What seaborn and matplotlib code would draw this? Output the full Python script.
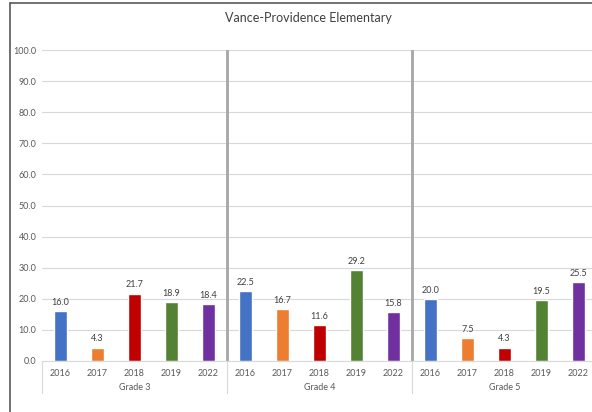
import matplotlib
matplotlib.use("Agg")
import matplotlib.pyplot as plt
import matplotlib.transforms as mtransforms
from matplotlib.lines import Line2D
import pandas as pd
import seaborn as sns

# Data
GRADES = ["Grade 3", "Grade 4", "Grade 5"]
YEARS = ["2016", "2017", "2018", "2019", "2022"]
GRADE3 = [16.0, 4.3, 21.7, 18.9, 18.4]
GRADE4 = [22.5, 16.7, 11.6, 29.2, 15.8]
GRADE5 = [20.0, 7.5, 4.3, 19.5, 25.5]
COLORS = ["#4472C4", "#ED7D31", "#C00000", "#548235", "#7030A0"]
TITLE = "Vance-Providence Elementary"

sns.set_theme(style="white")
plt.rcParams["font.family"] = ["Lato", "DejaVu Sans"]

rows = []
for grade, vals in zip(GRADES, [GRADE3, GRADE4, GRADE5]):
    for year, v in zip(YEARS, vals):
        rows.append({"Slot": f"{grade}|{year}", "Grade": grade, "Year": year, "Value": v})
df = pd.DataFrame(rows)
order = list(df["Slot"])

fig = plt.figure(figsize=(5.92, 4.12), dpi=100)
ax = fig.add_axes([42 / 592, 51 / 412, 555 / 592, 311 / 412])

sns.barplot(data=df, x="Slot", y="Value", hue="Year", order=order,
            palette=COLORS, saturation=1, dodge=False, width=0.34, legend=False, ax=ax)

ax.set_ylim(0, 100)
ax.set_xlim(-0.5, len(order) - 0.5)
ax.set_yticks(range(0, 101, 10))
ax.set_yticklabels([f"{t:.1f}" for t in range(0, 101, 10)], fontsize=6.5, color="#595959")
ax.yaxis.grid(True, color="#d9d9d9", linewidth=0.8)
ax.set_axisbelow(True)
ax.tick_params(axis="y", length=0, pad=4)
ax.tick_params(axis="x", length=0, pad=6)
ax.set_xticks(range(len(order)))
ax.set_xticklabels(list(df["Year"]), fontsize=6.5, color="#595959")
ax.set_xlabel("")
ax.set_ylabel("")
for side in ["top", "right", "left"]:
    ax.spines[side].set_visible(False)
ax.spines["bottom"].set_color("#d9d9d9")
ax.spines["bottom"].set_linewidth(0.8)

# value labels
for i, v in enumerate(df["Value"]):
    ax.annotate(f"{v:.1f}", (i, v), xytext=(0, 3), textcoords="offset points",
                ha="center", va="bottom", fontsize=6.5, color="#404040")

# group separators inside plot
for b in [4.5, 9.5]:
    ax.axvline(b, color="#a6a6a6", linewidth=2, zorder=3)

# multi-level category axis
trans = mtransforms.blended_transform_factory(ax.transData, ax.transAxes)
for b in [-0.5, 4.5, 9.5, 14.5]:
    ax.plot([b, b], [0, -32 / 311], transform=trans, color="#d9d9d9",
            linewidth=0.8, clip_on=False)
for k, grade in enumerate(GRADES):
    ax.text(k * 5 + 2, -26 / 311, grade, transform=trans, ha="center", va="center",
            fontsize=6.5, color="#595959")

fig.text(308 / 592, 1 - 18 / 412, TITLE, ha="center", va="center", fontsize=9, color="#404040")

# outer frame (partially cropped)
fig.add_artist(Line2D([10 / 592, 10 / 592], [0, 1 - 3 / 412], transform=fig.transFigure,
                      color="#595959", linewidth=1.2))
fig.add_artist(Line2D([10 / 592, 1], [1 - 3 / 412, 1 - 3 / 412], transform=fig.transFigure,
                      color="#595959", linewidth=1.2))

fig.savefig("out.png", dpi=100)
